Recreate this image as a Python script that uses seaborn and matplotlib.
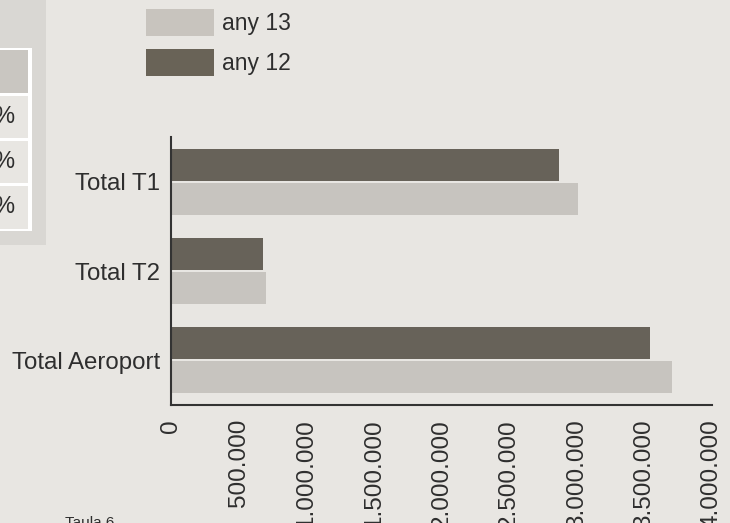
import matplotlib
matplotlib.use("Agg")
import matplotlib.pyplot as plt
from matplotlib.patches import Rectangle, Patch
from matplotlib.ticker import FixedLocator, FuncFormatter
import seaborn as sns
import pandas as pd

# ---- data ----
categories = ["Total T1", "Total T2", "Total Aeroport"]
values_any12 = [2870000, 680000, 3540000]
values_any13 = [3010000, 700000, 3705000]
series_order = ["any 12", "any 13"]
legend_order = ["any 13", "any 12"]
x_ticks = [0, 500000, 1000000, 1500000, 2000000, 2500000, 3000000, 3500000, 4000000]
table_cells = ["%", "%", "%"]
caption = "Taula 6"

# ---- styles ----
BG = "#e8e6e2"
PANEL = "#d9d7d3"
HEAD = "#c9c6c1"
LIGHT = "#c8c4be"
DARK = "#696357"
AXC = "#333333"
TXT = "#2e2e2e"
W, H = 730, 523

sns.set_theme(style="white")
plt.rcParams["font.family"] = ["Liberation Sans", "DejaVu Sans"]

fig = plt.figure(figsize=(W / 100, H / 100), dpi=100, facecolor=BG)


def px_rect(x0, y0, x1, y1, color):
    fig.add_artist(Rectangle((x0 / W, 1 - y1 / H), (x1 - x0) / W, (y1 - y0) / H,
                             transform=fig.transFigure, facecolor=color,
                             edgecolor="none", linewidth=0, zorder=0))


# partial table panel at top-left
px_rect(0, 0, 46, 245, PANEL)
px_rect(-5, 47.7, 31.7, 231, "white")
px_rect(-5, 50, 28.3, 92.7, HEAD)
row_bounds = [(95.7, 138.3), (140.7, 183.3), (185.7, 228.7)]
for (r0, r1), txt in zip(row_bounds, table_cells):
    px_rect(-5, r0, 28.3, r1, BG)
    fig.text(14 / W, 1 - ((r0 + r1) / 2) / H, txt, ha="right", va="center",
             fontsize=17, color=TXT)

fig.text(65 / W, 1 - 527 / H, caption, ha="left", va="baseline",
         fontsize=11, color=TXT)

# ---- chart ----
ax = fig.add_axes([171 / W, 1 - 405 / H, 541 / W, 268 / H])
ax.set_facecolor(BG)

df = pd.DataFrame({
    "cat": categories * 2,
    "value": values_any12 + values_any13,
    "year": [series_order[0]] * len(categories) + [series_order[1]] * len(categories),
})
sns.barplot(data=df, y="cat", x="value", hue="year", hue_order=series_order,
            palette=[DARK, LIGHT], orient="h", width=0.76, gap=0.05,
            linewidth=0, legend=False, errorbar=None, ax=ax)

ax.set_xlim(0, 4000000)
ax.set_ylim(2.5, -0.5)
ax.set_xlabel("")
ax.set_ylabel("")
sns.despine(ax=ax)
for s in ("left", "bottom"):
    ax.spines[s].set_color(AXC)
    ax.spines[s].set_linewidth(1.5)

ax.xaxis.set_major_locator(FixedLocator(x_ticks))
ax.xaxis.set_major_formatter(FuncFormatter(lambda v, p: f"{int(v):,}".replace(",", ".")))
ax.tick_params(axis="x", direction="in", length=4.5, width=1.5, color=AXC,
               pad=10, labelsize=17.5, labelcolor=TXT, labelrotation=90)
ax.tick_params(axis="y", direction="in", length=9.5, width=1.2, color=AXC,
               pad=8, labelsize=17.3, labelcolor=TXT)

handles = [Patch(facecolor=LIGHT if l == "any 13" else DARK, edgecolor="none", label=l)
           for l in legend_order]
fig.legend(handles=handles, loc="upper left", bbox_to_anchor=(146 / W, 1 - 9 / H),
           bbox_transform=fig.transFigure, frameon=False, borderpad=0,
           borderaxespad=0, fontsize=16.5, handlelength=2.95, handleheight=1.44,
           handletextpad=0.35, labelspacing=0.57, labelcolor=TXT)

fig.savefig("out.png", dpi=100, facecolor=BG)
